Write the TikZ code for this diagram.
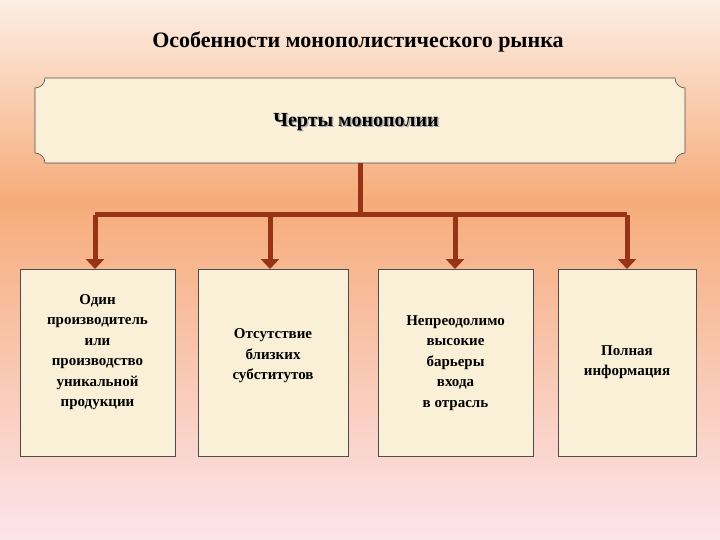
\documentclass[tikz,border=0pt]{standalone}
\usepackage{fontspec}
\setmainfont{Liberation Serif}
\definecolor{bgtop}{RGB}{252,238,228}
\definecolor{bgmid}{RGB}{246,172,122}
\definecolor{bgbot}{RGB}{252,228,236}
\definecolor{cream}{RGB}{250,240,216}
\definecolor{conn}{RGB}{152,52,22}
\tikzset{
 card/.style={draw=black!70,line width=0.6pt,fill=cream,minimum width=#1,minimum height=187pt,inner sep=0pt,anchor=north west},
 cardtext/.style={font=\bfseries\fontsize{15}{20.5}\selectfont,align=center},
 link/.style={conn,line width=5pt},
 arr/.style={conn,line width=5pt,-{Triangle[length=10pt,width=18pt]}}
}
\usetikzlibrary{arrows.meta}
\begin{document}
\begin{tikzpicture}[x=1pt,y=-1pt]
\useasboundingbox (0,0) rectangle (720,540);
\shade[top color=bgtop,bottom color=bgmid] (0,0) rectangle (720,200);
\shade[top color=bgmid,bottom color=bgbot] (0,200) rectangle (720,540);
\node (title) at (358,42) {\bfseries\fontsize{22}{24}\selectfont Особенности монополистического рынка};
\draw[black!70,line width=0.6pt,fill=cream] (45,78) -- (675,78) arc[start angle=180,end angle=90,radius=10] -- (685,153) arc[start angle=-90,end angle=-180,radius=10] -- (45,163) arc[start angle=0,end angle=-90,radius=10] -- (35,88) arc[start angle=90,end angle=0,radius=10] -- cycle;
\node[black!35] at (357.5,123.5) {\bfseries\fontsize{20}{22}\selectfont Черты монополии};
\node (head) at (356,122) {\bfseries\fontsize{20}{22}\selectfont Черты монополии};
\coordinate (top) at (360,163);
\coordinate (j) at (360,215);
\coordinate (l) at (95,215);
\coordinate (r) at (627,215);
\draw[link] (top) -- (j);
\draw[link] (l) -- (r);
\node[card=155pt] (c1) at (20,269) {};
\node[card=150pt] (c2) at (198,269) {};
\node[card=155pt] (c3) at (378,269) {};
\node[card=138pt] (c4) at (558,269) {};
\node[cardtext] at (97.5,352) {Один\\производитель\\или\\производство\\уникальной\\продукции};
\node[cardtext] at (273,356) {Отсутствие\\близких\\субститутов};
\node[cardtext] at (455.5,363) {Непреодолимо\\высокие\\барьеры\\входа\\в отрасль};
\node[cardtext] at (627,362) {Полная\\информация};
\draw[arr] (l) -- (95,269);
\draw[arr] (270,215) -- (270,269);
\draw[arr] (455,215) -- (455,269);
\draw[arr] (r) -- (627,269);
\end{tikzpicture}
\end{document}
